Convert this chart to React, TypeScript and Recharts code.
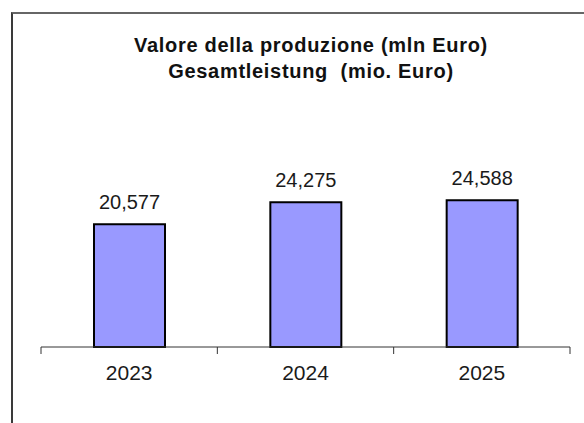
import { BarChart, Bar, XAxis, YAxis, LabelList } from 'recharts'

const years = ['2023', '2024', '2025']
const production = [20577, 24275, 24588]
const valueLabels = ['20,577', '24,275', '24,588']

const titleLines = ['Valore della produzione (mln Euro)', 'Gesamtleistung  (mio. Euro)']

const data = years.map((year, i) => ({ year, value: production[i], label: valueLabels[i] }))

const FONT = '"Liberation Sans", Arial, sans-serif'

// Excel-style tick: marks sit between categories, not under them
const YearTick = ({ x, y, payload, index }: any) => {
  const half = payload?.offset ?? 88
  return (
    <g>
      <line x1={x - half} y1={y} x2={x - half} y2={y + 7} stroke="#333" strokeWidth={1} />
      {index === years.length - 1 && (
        <line x1={x + half} y1={y} x2={x + half} y2={y + 7} stroke="#333" strokeWidth={1} />
      )}
      <text x={x} y={y + 33} textAnchor="middle" fontSize={21} fill="#1a1a1a" fontFamily={FONT}>
        {payload.value}
      </text>
    </g>
  )
}

export default function App() {
  return (
    <div style={{ position: 'absolute', left: 0, top: 0, width: 584, height: 423, overflow: 'hidden', background: '#fff' }}>
      <div
        style={{
          position: 'absolute',
          left: 11,
          top: 12,
          width: 620,
          height: 460,
          border: '2px solid #3a3a3a',
          borderTopColor: '#666',
        }}
      />
      <div
        style={{
          position: 'absolute',
          left: 0,
          top: 32,
          width: 622,
          textAlign: 'center',
          fontFamily: FONT,
          fontWeight: 'bold',
          fontSize: 20,
          letterSpacing: '0.7px',
          lineHeight: '26px',
          color: '#111',
        }}
      >
        {titleLines.map((t) => (
          <div key={t} style={{ whiteSpace: 'pre' }}>{t}</div>
        ))}
      </div>
      <div style={{ position: 'absolute', left: 0, top: 0 }}>
        <BarChart width={584} height={423} data={data} margin={{ top: 168, right: 14, bottom: 46, left: 41 }}>
          <YAxis hide domain={[0, 30000]} />
          <XAxis
            dataKey="year"
            height={30}
            tickLine={false}
            tickSize={0}
            tickMargin={0}
            axisLine={{ stroke: '#333', strokeWidth: 1 }}
            tick={<YearTick />}
            interval={0}
          />
          <Bar dataKey="value" fill="#9999ff" stroke="#000" strokeWidth={2} barSize={71} isAnimationActive={false}>
            <LabelList dataKey="label" position="top" offset={15} fontSize={20} fill="#1a1a1a" fontFamily={FONT} />
          </Bar>
        </BarChart>
      </div>
    </div>
  )
}
